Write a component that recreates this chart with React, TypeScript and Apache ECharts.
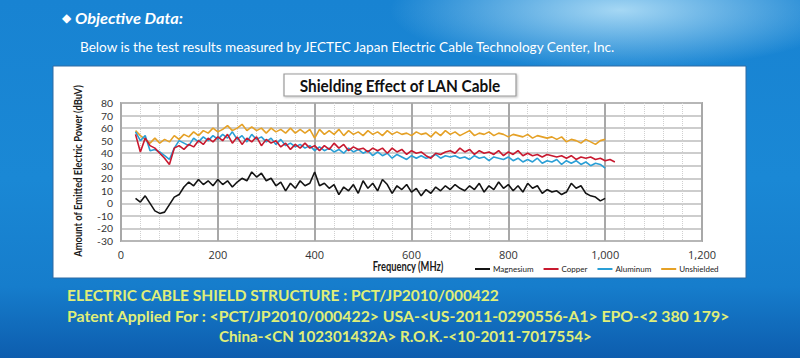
import React, { useEffect, useRef } from "react";
import * as echarts from "echarts";

const FREQS = [
  30, 40, 50, 60, 70, 80, 90, 100, 110, 120, 130, 140, 150, 160, 170, 180, 190, 200,
  210, 220, 230, 240, 250, 260, 270, 280, 290, 300, 310, 320, 330, 340, 350, 360, 370, 380,
  390, 400, 410, 420, 430, 440, 450, 460, 470, 480, 490, 500, 510, 520, 530, 540, 550, 560,
  570, 580, 590, 600, 610, 620, 630, 640, 650, 660, 670, 680, 690, 700, 710, 720, 730, 740,
  750, 760, 770, 780, 790, 800, 810, 820, 830, 840, 850, 860, 870, 880, 890, 900, 910, 920,
  930, 940, 950, 960, 970, 980, 990, 1000, 1010, 1020,
];

const MAGNESIUM = [
  4, 1, 6, 0, -6, -8, -7, -1, 5, 7, 13, 17, 14, 19, 15, 18, 14, 19,
  15, 18, 13, 17, 20, 18, 25, 21, 24, 18, 20, 14, 17, 10, 16, 12, 18, 14,
  16, 25, 14, 16, 12, 15, 7, 13, 10, 15, 8, 18, 12, 16, 10, 19, 15, 8,
  14, 11, 15, 9, 12, 6, 11, 8, 13, 10, 14, 11, 15, 12, 10, 14, 11, 16,
  9, 14, 11, 17, 12, 15, 10, 14, 9, 16, 12, 14, 8, 11, 9, 10, 7, 9,
  16, 12, 14, 8, 6, 5, 2, 4, null, null,
];

const COPPER = [
  55, 41, 52, 46, 44, 40, 36, 31, 44, 46, 43, 47, 45, 50, 47, 52, 49, 53,
  50, 55, 48, 53, 47, 52, 49, 53, 46, 51, 48, 50, 45, 48, 43, 47, 44, 48,
  44, 46, 42, 46, 43, 48, 44, 47, 42, 45, 43, 44, 41, 44, 42, 44, 40, 44,
  41, 43, 39, 42, 40, 41, 38, 36, 40, 39, 41, 42, 40, 44, 41, 43, 39, 42,
  40, 41, 39, 42, 38, 41, 39, 42, 38, 40, 38, 39, 37, 39, 38, 37, 38, 36,
  38, 35, 37, 36, 37, 35, 36, 34, 35, 33,
];

const ALUMINUM = [
  57, 50, 54, 42, 43, 41, 38, 35, 44, 50, 48, 46, 52, 49, 53, 50, 54, 51,
  55, 52, 57, 51, 54, 49, 55, 51, 53, 49, 52, 47, 51, 46, 48, 45, 47, 44,
  46, 42, 45, 42, 44, 41, 43, 40, 44, 41, 43, 40, 42, 38, 41, 38, 40, 36,
  39, 37, 35, 38, 36, 38, 36, 37, 39, 36, 38, 37, 38, 36, 37, 35, 38, 36,
  37, 34, 37, 36, 35, 37, 34, 36, 33, 35, 33, 36, 32, 34, 33, 35, 31, 34,
  32, 34, 31, 33, 30, 32, 31, 28, null, null,
];

const UNSHIELDED = [
  58, 54, 51, 48, 52, 48, 51, 49, 54, 51, 55, 53, 57, 54, 58, 56, 60, 57,
  59, 62, 58, 60, 63, 58, 61, 58, 60, 56, 60, 57, 59, 56, 60, 56, 59, 56,
  59, 52, 59, 55, 58, 55, 59, 54, 58, 55, 57, 54, 58, 55, 57, 54, 58, 55,
  57, 55, 56, 54, 57, 55, 56, 53, 57, 54, 58, 55, 57, 54, 56, 58, 54, 56,
  55, 57, 54, 56, 55, 53, 55, 54, 53, 55, 52, 54, 53, 52, 53, 51, 53, 49,
  51, 50, 48, 51, 49, 47, 50, 51, null, null,
];

const SERIES_NAMES = ["Magnesium", "Copper", "Aluminum", "Unshielded"];
const SERIES_COLORS = ["#141414", "#c8192f", "#2a9fd6", "#e5a126"];
const SERIES_VALUES = [MAGNESIUM, COPPER, ALUMINUM, UNSHIELDED];

const TITLE = "Shielding Effect of LAN Cable";
const Y_NAME = "Amount of Emitted Electric Power (dBuV)";
const X_NAME = "Frequency (MHz)";
const HEAD = "Objective Data:";
const SUB = "Below is the test results measured by JECTEC Japan Electric Cable Technology Center, Inc.";
const FOOT1 = "ELECTRIC CABLE SHIELD STRUCTURE : PCT/JP2010/000422";
const FOOT2 = "Patent Applied For : <PCT/JP2010/000422> USA-<US-2011-0290556-A1> EPO-<2 380 179>";
const FOOT3 = "China-<CN 102301432A> R.O.K.-<10-2011-7017554>";

const FONT = "Lato, 'Open Sans', sans-serif";

function measure(text: string, font: string): number {
  const c = document.createElement("canvas").getContext("2d");
  if (!c) return text.length * 7;
  c.font = font;
  return c.measureText(text).width || text.length * 7;
}

function fitText(text: string, font: string, width: number, x: number, y: number, fill: string, align = "left", rotation = 0) {
  const s = width / measure(text, font);
  return {
    type: "text",
    x,
    y,
    rotation,
    scaleX: s,
    style: { text, font, fill, align, verticalAlign: "middle" },
    z: 11,
  };
}

export default function App() {
  const ref = useRef<HTMLDivElement>(null);
  useEffect(() => {
    if (!ref.current) return;
    const chart = echarts.init(ref.current, null, { renderer: "svg" });
    const series = SERIES_NAMES.map((name, k) => ({
      name,
      type: "line",
      data: FREQS.map((f, i) => [f, SERIES_VALUES[k][i]]),
      showSymbol: false,
      symbol: "none",
      connectNulls: false,
      lineStyle: { color: SERIES_COLORS[k], width: 1.6 },
      itemStyle: { color: SERIES_COLORS[k] },
      z: k === 0 ? 6 : 6 - k,
    }));
    const footFont = `bold 16px ${FONT}`;
    const yellow = "#e0ef78";
    chart.setOption({
      animation: false,
      backgroundColor: new echarts.graphic.LinearGradient(0, 0, 0, 1, [
        { offset: 0, color: "#1883d2" },
        { offset: 0.5, color: "#1a88d5" },
        { offset: 0.8, color: "#167dcc" },
        { offset: 1, color: "#0d5dae" },
      ]),
      graphic: [
        {
          type: "ellipse",
          shape: { cx: 620, cy: 10, rx: 230, ry: 60 },
          style: {
            fill: new echarts.graphic.RadialGradient(0.5, 0.5, 0.5, [
              { offset: 0, color: "rgba(190,230,250,0.85)" },
              { offset: 1, color: "rgba(190,230,250,0)" },
            ]),
          },
          silent: true,
          z: -10,
        },
        {
          type: "rect",
          shape: { x: 53, y: 66, width: 693, height: 212 },
          style: { fill: "#ffffff", stroke: "#2f6aa3", lineWidth: 1 },
          z: -5,
        },
        {
          type: "rect",
          shape: { x: 284, y: 74, width: 232, height: 22 },
          style: { fill: "#ffffff", stroke: "#9a9a9a", lineWidth: 1.2, shadowBlur: 2, shadowColor: "rgba(0,0,0,0.25)", shadowOffsetX: 1, shadowOffsetY: 1 },
          z: 10,
        },
        fitText(TITLE, `bold 17px ${FONT}`, 201, 400, 85, "#111", "center"),
        fitText(Y_NAME, `bold 11px ${FONT}`, 172, 78, 171, "#1a1a1a", "center", Math.PI / 2),
        fitText(X_NAME, `bold 13px ${FONT}`, 71, 408, 266, "#1a1a1a", "center"),
        {
          type: "text",
          x: 62,
          y: 18,
          style: { text: "\u25C6", font: `12px 'DejaVu Sans', sans-serif`, fill: "#ffffff", align: "left", verticalAlign: "middle" },
          z: 11,
        },
        fitText(HEAD, `italic bold 15px ${FONT}`, 108, 75, 18, "#ffffff"),
        fitText(SUB, `14px ${FONT}`, 537, 80, 46, "#ffffff"),
        fitText(FOOT1, footFont, 432, 67, 294, yellow),
        fitText(FOOT2, footFont, 664, 67, 315, yellow),
        fitText(FOOT3, footFont, 373, 219, 336, yellow),
      ],
      legend: {
        data: SERIES_NAMES,
        left: 470,
        top: 260,
        icon: "rect",
        itemWidth: 15,
        itemHeight: 2,
        itemGap: 10,
        textStyle: { fontFamily: FONT, fontSize: 8, color: "#222", padding: [0, 0, 0, -2] },
      },
      grid: {
        left: 121,
        right: 98,
        top: 103,
        bottom: 117,
        show: true,
        backgroundColor: "#ffffff",
        borderColor: "#a8a8a8",
        borderWidth: 2,
      },
      xAxis: {
        type: "value",
        min: 0,
        max: 1200,
        interval: 200,
        axisLine: { show: false },
        axisTick: { show: false },
        axisLabel: {
          margin: 8,
          fontFamily: "'Open Sans', sans-serif",
          fontSize: 11,
          color: "#333",
          formatter: (v: number) => v.toLocaleString("en-US"),
        },
        splitLine: { show: true, lineStyle: { color: "#a8a8a8", width: 2 } },
        minorTick: { show: false, splitNumber: 5 },
        minorSplitLine: { show: true, lineStyle: { color: "#d0d0d0", width: 1, type: "dotted" } },
      },
      yAxis: {
        type: "value",
        min: -30,
        max: 80,
        interval: 10,
        axisLine: { show: false },
        axisTick: { show: false },
        axisLabel: { margin: 8, fontFamily: FONT, fontSize: 10.4, lineHeight: 10, color: "#333" },
        splitLine: { show: true, lineStyle: { color: "#bcbcbc", width: 1.5 } },
      },
      series,
    });
    return () => chart.dispose();
  }, []);
  return (
    <div style={{ position: "fixed", left: 0, top: 0, width: 800, height: 358 }}>
      <div ref={ref} style={{ width: 800, height: 358 }} />
    </div>
  );
}
